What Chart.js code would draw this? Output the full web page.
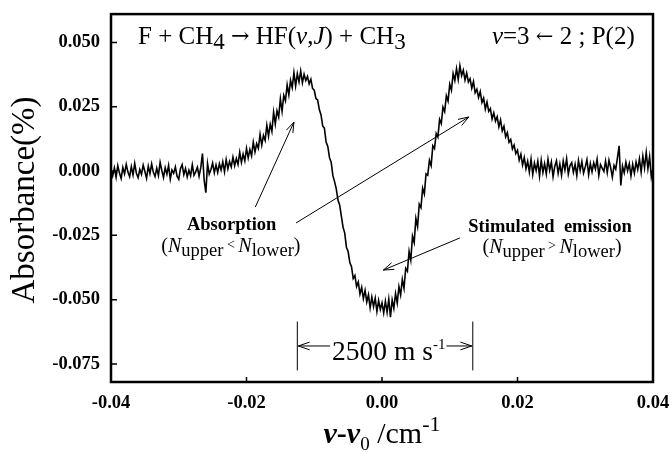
<!DOCTYPE html>
<html>
<head>
<meta charset="utf-8">
<script src="https://cdn.jsdelivr.net/npm/chart.js@4.4.0/dist/chart.umd.min.js"></script>
<style>
  html, body { margin: 0; padding: 0; background: #fff; }
  #wrap { width: 672px; height: 452px; }
</style>
</head>
<body>
<div id="wrap"><canvas id="spectrum" width="672" height="452"></canvas></div>
<script>
// Detuning grid (cm-1): first sample and spacing
const xStart = -0.04;
const xStep = 0.00025;

// Absorbance, in units of 0.001 %
const absorbanceMilli = [
  0.8, -1.9, 1.2, -2.4,   2.1, -0.8, -2.9, 1.4,   -1.1, 2.6, -0.4, -2.2,   1.7, -1.5, 3.0, -0.9,
  -2.6, 0.6, -1.3, 2.3,   -0.2, -2.8, 1.9, -1.0,   2.8, -0.5, -2.1, 1.1,   -1.7, 3.4, 0.2, -2.5,
  1.3, -1.2, 2.2, -3.1,   0.4, -0.9, 1.6, -2.0,   -3.2, 0.9, 2.5, -1.4,   1.0, -2.3, 0.3, -1.8,
  2.4, -1.6, -0.3, 1.5,   -2.0, 1.3, 6.8, -3.5,   -8.4, 2.9, -1.2, 0.6,   3.1, -0.7, 2.4, -0.5,
  2.8, 0.4, 3.6, -0.3,   4.5, 0.9, 3.7, 1.6,   5.4, 2.1, 4.9, 2.6,   7.3, 3.4, 6.6, 4.0,
  8.8, 5.1, 8.4, 5.9,   11.2, 7.4, 10.6, 8.8,   14.3, 10.1, 13.8, 11.9,   17.8, 13.6, 18.2, 15.4,
  22.9, 18.3, 23.4, 21.0,   28.1, 23.2, 29.4, 27.3,   33.5, 29.6, 35.2, 32.4,   38.2, 33.1, 37.8, 34.6,
  38.9, 34.3, 37.6, 35.2,   36.8, 33.9, 35.7, 32.1,   31.4, 28.2, 27.6, 23.9,   21.8, 17.5, 16.6, 11.3,
  9.6, 5.2, 3.4, -1.8,   -4.1, -6.9, -11.3, -13.2,   -17.5, -21.8, -24.1, -29.6,   -31.3, -35.6, -37.2, -41.8,
  -40.6, -44.9, -43.1, -47.8,   -45.2, -49.6, -46.4, -50.9,   -48.1, -53.2, -49.0, -52.7,   -49.4, -54.6, -50.3, -53.8,
  -51.2, -55.1, -50.6, -54.9,   -49.8, -56.8, -50.1, -53.4,   -47.6, -51.3, -44.9, -48.2,   -42.1, -45.6, -37.8, -38.9,
  -31.2, -34.6, -25.3, -27.8,   -18.4, -21.6, -12.9, -14.2,   -6.7, -8.9, -1.1, -1.6,   4.2, 2.1, 9.8, 8.7,
  14.6, 13.2, 20.1, 18.4,   24.8, 23.1, 29.3, 27.2,   33.7, 31.4, 37.9, 35.2,   39.8, 35.6, 40.9, 37.1,
  39.2, 35.4, 38.1, 34.6,   35.9, 32.2, 34.8, 30.4,   31.8, 28.6, 30.9, 26.7,   28.4, 24.1, 26.8, 23.2,
  24.3, 20.2, 22.6, 19.4,   21.1, 17.2, 19.8, 15.6,   17.4, 13.3, 14.9, 11.2,   12.3, 8.6, 10.1, 6.8,
  8.1, 4.2, 6.5, 2.3,   5.2, 0.9, 3.8, -0.4,   4.6, -1.3, 3.1, 0.2,   3.8, -1.9, 4.2, -0.6,
  2.9, -1.1, 4.6, 0.3,   3.5, -2.2, 1.8, 4.0,   -0.9, 2.7, -1.6, 3.9,   0.4, 4.8, -1.2, 2.1,
  3.3, -0.5, 2.6, -1.8,   4.1, 0.2, 3.7, -0.8,   1.6, 4.4, -1.4, 2.9,   -0.3, 3.2, 0.8, 4.6,
  -1.7, 2.5, 1.1, -0.2,   3.9, -0.6, 4.2, 1.3,   -2.4, 2.2, 0.7, 5.1,   9.8, -5.6, 1.9, -0.7,
  3.4, 0.1, 2.8, -1.9,   2.6, -0.8, 3.5, 0.6,   4.7, -0.4, 5.8, 1.2,   7.2, 0.9, 5.6, -2.3,
  1.0
];

const xTicks = [-0.04, -0.02, 0.00, 0.02, 0.04];
const yTicks = [-0.075, -0.050, -0.025, 0.000, 0.025, 0.050];
const xInnerTicks = [-0.02, 0.00, 0.02];

const SERIF = "'Liberation Serif', 'Times New Roman', serif";
const ARROWS = "'DejaVu Serif', serif";

function font(size, style, family) {
  return (style ? style + ' ' : '') + size + 'px ' + (family || SERIF);
}

// draw a run of text pieces with their own fonts and baseline shifts
function drawRich(ctx, parts, x, y, align) {
  let total = 0;
  parts.forEach(p => {
    ctx.font = p.font;
    p.w = ctx.measureText(p.t).width;
    total += p.w;
  });
  let cx = x;
  if (align === 'center') cx = x - total / 2;
  if (align === 'right') cx = x - total;
  const left = cx;
  ctx.textAlign = 'left';
  ctx.textBaseline = 'alphabetic';
  parts.forEach(p => {
    ctx.font = p.font;
    ctx.fillText(p.t, cx, y + (p.dy || 0));
    cx += p.w;
  });
  return { left: left, right: cx };
}

function drawArrow(ctx, x1, y1, x2, y2, size) {
  const a = Math.atan2(y2 - y1, x2 - x1);
  const spread = 0.33;
  ctx.beginPath();
  ctx.moveTo(x1, y1);
  ctx.lineTo(x2, y2);
  ctx.moveTo(x2 - size * Math.cos(a - spread), y2 - size * Math.sin(a - spread));
  ctx.lineTo(x2, y2);
  ctx.lineTo(x2 - size * Math.cos(a + spread), y2 - size * Math.sin(a + spread));
  ctx.stroke();
}

const decorPlugin = {
  id: 'decor',
  afterDraw(chart) {
    const ctx = chart.ctx;
    const area = chart.chartArea;
    const xs = chart.scales.x;
    const ys = chart.scales.y;
    const px = v => xs.getPixelForValue(v);
    const py = v => ys.getPixelForValue(v);

    ctx.save();
    ctx.strokeStyle = '#000';
    ctx.fillStyle = '#000';

    // frame
    ctx.lineWidth = 2.5;
    ctx.strokeRect(area.left, area.top, area.right - area.left, area.bottom - area.top);

    // inward tick marks
    ctx.lineWidth = 1.5;
    ctx.beginPath();
    yTicks.forEach(v => {
      ctx.moveTo(area.left, py(v));
      ctx.lineTo(area.left + 6, py(v));
    });
    xInnerTicks.forEach(v => {
      ctx.moveTo(px(v), area.bottom);
      ctx.lineTo(px(v), area.bottom - 5);
    });
    ctx.stroke();

    // reaction label and transition
    drawRich(ctx, [
      { t: 'F + CH', font: font(25) },
      { t: '4', font: font(23), dy: 5 },
      { t: ' ', font: font(25) },
      { t: '\u2192', font: font(22, '', ARROWS), dy: -1 },
      { t: ' HF(', font: font(25) },
      { t: 'v', font: font(25, 'italic') },
      { t: ',', font: font(25) },
      { t: 'J', font: font(25, 'italic') },
      { t: ') + CH', font: font(25) },
      { t: '3', font: font(23), dy: 5 }
    ], px(-0.036), py(0.0495), 'left');

    drawRich(ctx, [
      { t: 'v', font: font(25, 'italic') },
      { t: '=3 ', font: font(25) },
      { t: '\u2190', font: font(21, '', ARROWS), dy: -1 },
      { t: ' 2 ; P(2)', font: font(25) }
    ], px(0.0373), py(0.0495), 'right');

    // absorption / stimulated emission notes
    ctx.lineWidth = 1;
    drawRich(ctx, [{ t: 'Absorption', font: font(18.5, 'bold') }], px(-0.0222), py(-0.0229), 'center');
    drawRich(ctx, [
      { t: '(', font: font(20) },
      { t: 'N', font: font(20, 'italic') },
      { t: 'upper', font: font(18.5), dy: 4 },
      { t: ' < ', font: font(14), dy: -3 },
      { t: 'N', font: font(20, 'italic') },
      { t: 'lower', font: font(18.5), dy: 4 },
      { t: ')', font: font(20) }
    ], px(-0.0223), py(-0.0315), 'center');

    drawRich(ctx, [{ t: 'Stimulated  emission', font: font(18.5, 'bold') }], px(0.0248), py(-0.0237), 'center');
    drawRich(ctx, [
      { t: '(', font: font(20) },
      { t: 'N', font: font(20, 'italic') },
      { t: 'upper', font: font(18.5), dy: 4 },
      { t: ' > ', font: font(14), dy: -3 },
      { t: 'N', font: font(20, 'italic') },
      { t: 'lower', font: font(18.5), dy: 4 },
      { t: ')', font: font(20) }
    ], px(0.0251), py(-0.0319), 'center');

    drawArrow(ctx, px(-0.0187), py(-0.0140), px(-0.0130), py(0.0190), 11);
    drawArrow(ctx, px(-0.0127), py(-0.0202), px(0.0128), py(0.0210), 11);
    drawArrow(ctx, px(0.0115), py(-0.0260), px(0.0002), py(-0.0385), 11);

    // 2500 m/s width marker
    const barL = px(-0.0125), barR = px(0.0134);
    const barTop = py(-0.0585), barBot = py(-0.0775), arrowY = py(-0.0680);
    ctx.beginPath();
    ctx.moveTo(barL, barTop); ctx.lineTo(barL, barBot);
    ctx.moveTo(barR, barTop); ctx.lineTo(barR, barBot);
    ctx.stroke();
    const span = drawRich(ctx, [
      { t: '2500 m s', font: font(27.5) },
      { t: '-1', font: font(15), dy: -11 }
    ], px(0.0010), py(-0.0735), 'center');
    drawArrow(ctx, span.left - 2, arrowY, barL + 1, arrowY, 12);
    drawArrow(ctx, span.right + 1, arrowY, barR - 1, arrowY, 12);

    // axis titles
    drawRich(ctx, [
      { t: '\u03bd', font: font(30, 'italic bold') },
      { t: '-', font: font(30, 'bold') },
      { t: '\u03bd', font: font(30, 'italic bold') },
      { t: '0', font: font(19), dy: 7 },
      { t: ' /cm', font: font(30) },
      { t: '-1', font: font(22), dy: -12 }
    ], (area.left + area.right) / 2, 443, 'center');

    ctx.translate(25, 200);
    ctx.rotate(-Math.PI / 2);
    ctx.font = font(33);
    ctx.textAlign = 'center';
    ctx.textBaseline = 'middle';
    ctx.fillText('Absorbance(%)', 0, 0);

    ctx.restore();
  }
};

const points = absorbanceMilli.map((v, i) => ({ x: xStart + i * xStep, y: v / 1000 }));

const tickFont = { family: SERIF, size: 18.5, weight: 'bold' };

new Chart(document.getElementById('spectrum'), {
  type: 'line',
  data: {
    datasets: [{
      data: points,
      borderColor: '#000',
      borderWidth: 1.6,
      pointRadius: 0,
      tension: 0,
      fill: false
    }]
  },
  options: {
    responsive: false,
    animation: false,
    devicePixelRatio: 1,
    layout: { padding: { left: 0, top: 14, right: 19, bottom: 0 } },
    plugins: {
      legend: { display: false },
      tooltip: { enabled: false },
      title: { display: false }
    },
    scales: {
      x: {
        type: 'linear',
        min: -0.04,
        max: 0.04,
        afterBuildTicks: s => { s.ticks = xTicks.map(v => ({ value: v })); },
        afterFit: s => { s.height = 70; },
        grid: { display: false },
        border: { display: false },
        ticks: {
          color: '#000',
          font: tickFont,
          padding: 2,
          maxRotation: 0,
          autoSkip: false,
          callback: v => v.toFixed(2)
        }
      },
      y: {
        type: 'linear',
        min: -0.082,
        max: 0.061,
        afterBuildTicks: s => { s.ticks = yTicks.map(v => ({ value: v })); },
        afterFit: s => { s.width = 111; },
        grid: { display: false },
        border: { display: false },
        ticks: {
          color: '#000',
          font: tickFont,
          padding: 3,
          autoSkip: false,
          callback: v => v.toFixed(3)
        }
      }
    }
  },
  plugins: [decorPlugin]
});
</script>
</body>
</html>
